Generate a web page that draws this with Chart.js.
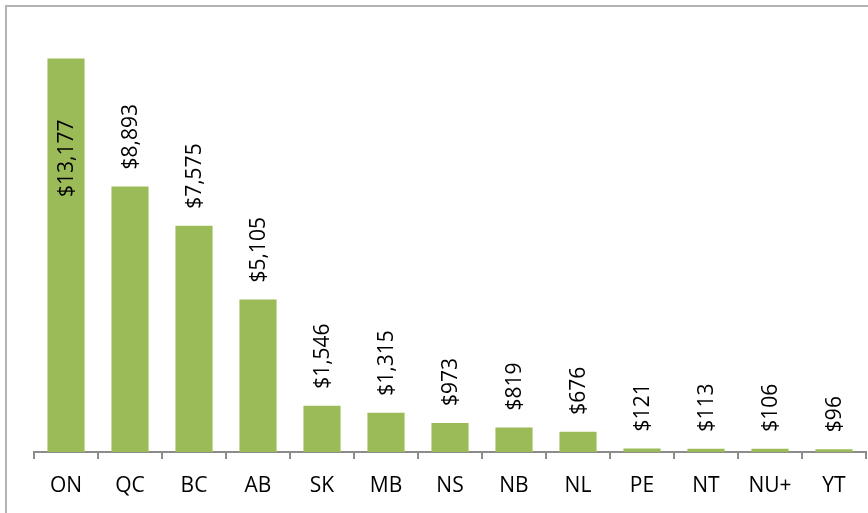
<!DOCTYPE html>
<html>
<head>
<meta charset="utf-8">
<script src="https://cdn.jsdelivr.net/npm/chart.js@4"></script>
<style>
    html, body { margin: 0; padding: 0; background: #fff; }
    #wrap { width: 868px; height: 513px; position: relative; }
</style>
</head>
<body>
<div id="wrap"><canvas id="ProvinceChart" width="868" height="513"></canvas></div>
<script>
const provinces = ['ON', 'QC', 'BC', 'AB', 'SK', 'MB', 'NS', 'NB', 'NL', 'PE', 'NT', 'NU+', 'YT'];
const amounts = [13177, 8893, 7575, 5105, 1546, 1315, 973, 819, 676, 121, 113, 106, 96];

const fontFamily = '"Open Sans", "Liberation Sans", sans-serif';

// frame around the chart, cut off at right and bottom like the original
const framePlugin = {
    id: 'frame',
    beforeDraw(chart) {
        const ctx = chart.ctx;
        ctx.save();
        ctx.strokeStyle = '#b4b4b4';
        ctx.lineWidth = 2;
        ctx.beginPath();
        ctx.moveTo(6, chart.height);
        ctx.lineTo(6, 6);
        ctx.lineTo(chart.width, 6);
        ctx.stroke();
        ctx.restore();
    }
};

// rotated value labels above each bar (inside when no room)
const valueLabels = {
    id: 'valueLabels',
    afterDatasetsDraw(chart) {
        const ctx = chart.ctx;
        const meta = chart.getDatasetMeta(0);
        ctx.save();
        ctx.font = '21px ' + fontFamily;
        ctx.fillStyle = '#000';
        ctx.textBaseline = 'middle';
        ctx.textAlign = 'left';
        meta.data.forEach((bar, i) => {
            const text = '$' + amounts[i].toLocaleString('en-US');
            const w = ctx.measureText(text).width;
            let yStart = bar.y - 17;
            if (yStart - w < 8) {
                yStart = bar.y + 61 + w;
            }
            ctx.save();
            ctx.translate(bar.x + 1, yStart);
            ctx.rotate(-Math.PI / 2);
            ctx.fillText(text, 0, 0);
            ctx.restore();
        });
        ctx.restore();
    }
};

const ctx = document.getElementById('ProvinceChart');
new Chart(ctx, {
    type: 'bar',
    data: {
        labels: provinces,
        datasets: [{
            label: 'Amount',
            data: amounts,
            backgroundColor: '#9bbb59',
            borderWidth: 0,
            barPercentage: 0.58,
            categoryPercentage: 1
        }]
    },
    options: {
        responsive: false,
        animation: false,
        layout: {
            padding: { left: 34, right: 2, top: 34, bottom: 0 }
        },
        plugins: {
            legend: { display: false },
            tooltip: { enabled: false }
        },
        scales: {
            y: {
                display: false,
                min: 0,
                max: 14000
            },
            x: {
                afterFit: (axis) => { axis.height = 61; },
                grid: {
                    display: true,
                    drawOnChartArea: false,
                    drawTicks: true,
                    tickLength: 7,
                    color: '#8c8c8c',
                    lineWidth: 2,
                    offset: true
                },
                border: { color: '#8c8c8c', width: 2 },
                ticks: {
                    color: '#000',
                    padding: 14,
                    font: { family: fontFamily, size: 21 }
                }
            }
        }
    },
    plugins: [framePlugin, valueLabels]
});
</script>
</body>
</html>
